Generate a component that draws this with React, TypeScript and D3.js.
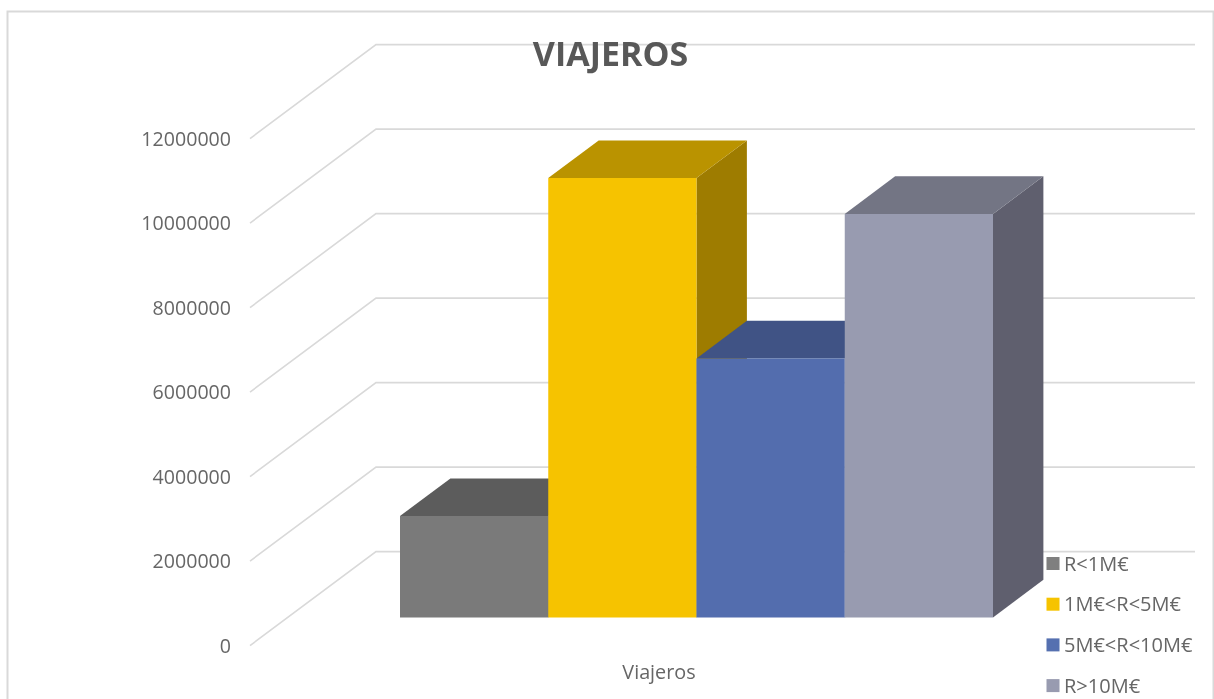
// App.tsx
import React from 'react';
import * as d3 from 'd3';

const seriesNames = ['R<1M€', '1M€<R<5M€', '5M€<R<10M€', 'R>10M€'];
const seriesValues = [2400000, 10400000, 6130000, 9550000];
const tickValues = [0, 2000000, 4000000, 6000000, 8000000, 10000000, 12000000];
const categoryLabel = 'Viajeros';
const chartTitle = 'VIAJEROS';

const frontColors = ['#7a7a7a', '#f6c300', '#526dae', '#989bb0'];
const topColors = ['#5c5c5c', '#ba9300', '#3f5385', '#737584'];
const sideColors = ['#4c4c4c', '#9e7b00', '#34456e', '#5f5f6e'];
const legendColors = ['#7f7f7f', '#f6c300', '#5470b0', '#989bb0'];

const width = 1214;
const height = 699;

// front edge of the floor, and how far the depth axis shifts to the back wall
const floorLeft = 250;
const floorY = 645.6;
const plotHeight = 507;
const depthX = 126;
const depthY = 94;
const wallRight = 1195;

// bars sit between these fractions of the depth
const barDepthFront = 0.3;
const barDepthBack = 0.7;

const y = d3.scaleLinear().domain([0, 12000000]).range([0, plotHeight]);
const depth = d3.scaleLinear().domain([0, 1]).range([0, 1]);
const x = d3.scaleBand().domain(seriesNames).range([400, 993]).padding(0);

// x in screen px on the front plane, v value, d depth fraction
const project = (px: number, v: number, d: number): [number, number] => [
  px + depthX * (depth(d) - barDepthFront),
  floorY - y(v) - depthY * depth(d),
];

const poly = d3.line().curve(d3.curveLinearClosed);

const textColor = '#666666';
const font = '"Open Sans", sans-serif';

const Bar = ({ i }: { i: number }) => {
  const name = seriesNames[i];
  const v = seriesValues[i];
  const x0 = x(name) as number;
  const x1 = x0 + x.bandwidth();
  const f = barDepthFront;
  const b = barDepthBack;
  const top = poly([project(x0, v, f), project(x0, v, b), project(x1, v, b), project(x1, v, f)]) as string;
  const side = poly([project(x1, 0, f), project(x1, 0, b), project(x1, v, b), project(x1, v, f)]) as string;
  const front = poly([project(x0, 0, f), project(x0, v, f), project(x1, v, f), project(x1, 0, f)]) as string;
  return (
    <g>
      <path d={side} fill={sideColors[i]} />
      <path d={top} fill={topColors[i]} />
      <path d={front} fill={frontColors[i]} />
    </g>
  );
};

export default function App() {
  return (
    <svg
      width={width}
      height={height}
      style={{ position: 'absolute', left: 0, top: 0, background: '#fff' }}
    >
      <defs>
        <filter id="soft" x="-5%" y="-5%" width="110%" height="110%">
          <feGaussianBlur stdDeviation="0.6" />
        </filter>
      </defs>
      <g filter="url(#soft)">
        <path d={`M7.5,${height}V11.5H1213.5V${height}`} fill="none" stroke="#d9d9d9" strokeWidth={2} />

        {tickValues.map((t) => {
          const yFront = floorY - y(t);
          return (
            <g key={t}>
              <path
                d={`M${floorLeft},${yFront}L${floorLeft + depthX},${yFront - depthY}H${wallRight}`}
                fill="none"
                stroke="#d9d9d9"
                strokeWidth={1.6}
              />
              <text
                x={231}
                y={yFront}
                dy="0.36em"
                textAnchor="end"
                fontFamily={font}
                fontSize={19.6}
                fill={textColor}
              >
                {t}
              </text>
            </g>
          );
        })}

        {seriesNames.map((_, i) => (
          <Bar key={i} i={i} />
        ))}

        <text
          x={610.5}
          y={54}
          dy="0.36em"
          textAnchor="middle"
          fontFamily={font}
          fontWeight={700}
          fontSize={34}
          fill="#595959"
        >
          {chartTitle}
        </text>

        <text x={659} y={672} dy="0.36em" textAnchor="middle" fontFamily={font} fontSize={19.8} fill={textColor}>
          {categoryLabel}
        </text>

        {seriesNames.map((name, i) => {
          const ly = 563.5 + i * 40.7;
          return (
            <g key={name}>
              <rect x={1046.5} y={ly - 6.5} width={13} height={13} fill={legendColors[i]} />
              <text x={1064} y={ly} dy="0.36em" fontFamily={font} fontSize={20} fill={textColor}>
                {name}
              </text>
            </g>
          );
        })}
      </g>
    </svg>
  );
}
